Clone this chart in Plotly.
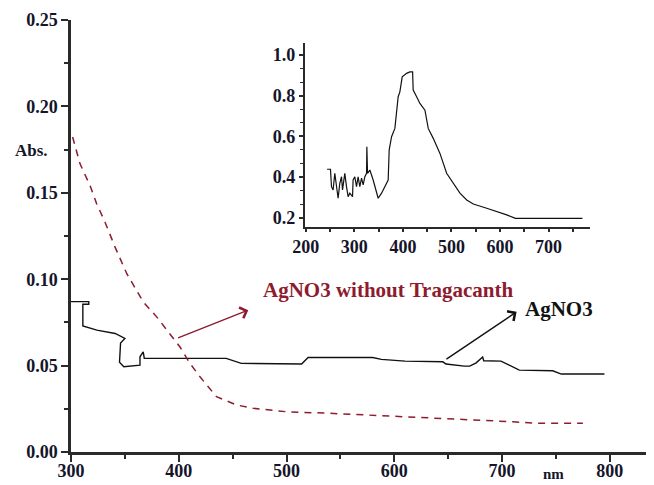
import plotly.graph_objects as go

# ---- main chart data ----
agno3_x = [300, 316.5, 316.5, 311, 311, 324, 341, 350, 346, 345, 349, 364, 364, 367, 368, 444, 458, 494, 514,
           520, 580, 588, 610, 645, 648, 665, 670, 676, 682, 683, 699, 716, 747, 755, 795]
agno3_y = [0.087, 0.087, 0.0855, 0.0855, 0.073, 0.0705, 0.0686, 0.0657, 0.063, 0.052, 0.0493, 0.0503, 0.0551,
           0.058, 0.0542, 0.0542, 0.0513, 0.0509, 0.0509, 0.0547, 0.0547, 0.0536, 0.0526, 0.0522, 0.0509,
           0.0497, 0.0497, 0.0516, 0.055, 0.0528, 0.0526, 0.0474, 0.047, 0.0451, 0.0451]

notrag_x = [301.5, 308.3, 317.6, 323.8, 331.5, 340.8, 351.7, 367, 379.5, 388.7, 401, 410.4, 419.7, 435,
            453.7, 469, 500, 540, 593, 636, 685.6, 710, 732, 775]
notrag_y = [0.1823, 0.1669, 0.1543, 0.1437, 0.1331, 0.1187, 0.1033, 0.0869, 0.0782, 0.0705, 0.0609, 0.0513,
            0.0435, 0.032, 0.0272, 0.0253, 0.0233, 0.0224, 0.021, 0.0195, 0.0185, 0.0175, 0.0166, 0.0166]

# ---- inset data ----
inset_x = [243.9, 250.9, 253, 256.3, 259.8, 263.3, 266.6, 270.1, 273.6, 275.7, 280.4, 283.9, 287.2, 290.7,
           296.3, 297.5, 301, 304.5, 307.8, 311.3, 314.9, 318.2, 321.7, 325.2, 325.8, 327.2, 332, 338.8,
           349.1, 356.1, 362.9, 369.7, 371.8, 376.7, 383.5, 387, 390.3, 393.8, 398.6, 407.6, 414.4, 420,
           421.2, 428.3, 435.1, 445.4, 452.2, 462.5, 476.3, 490.1, 503.7, 517.5, 531.4, 545, 572.6, 593.2,
           613.8, 631.6, 769.7]
inset_y = [0.438, 0.438, 0.352, 0.336, 0.418, 0.344, 0.295, 0.369, 0.401, 0.336, 0.418, 0.352, 0.303, 0.32,
           0.303, 0.385, 0.401, 0.352, 0.401, 0.352, 0.394, 0.361, 0.401, 0.418, 0.549, 0.418, 0.434, 0.385,
           0.295, 0.32, 0.352, 0.385, 0.533, 0.598, 0.639, 0.713, 0.795, 0.819, 0.893, 0.91, 0.917, 0.917,
           0.828, 0.795, 0.762, 0.729, 0.639, 0.59, 0.516, 0.418, 0.369, 0.32, 0.287, 0.267, 0.246, 0.23,
           0.213, 0.196, 0.196]

main_xticks = [300, 400, 500, 600, 700, 800]
main_yticks = [0.00, 0.05, 0.10, 0.15, 0.20, 0.25]
inset_xticks = [200, 300, 400, 500, 600, 700]
inset_yticks = [0.2, 0.4, 0.6, 0.8, 1.0]

RED = "#8e1b2e"
INK = "#15152a"
AXC = "#2a2a2a"
FONT = "Liberation Serif"

fig = go.Figure()
fig.add_trace(go.Scatter(x=agno3_x, y=agno3_y, mode="lines",
                         line=dict(color="#111111", width=1.4), showlegend=False, hoverinfo="skip"))
fig.add_trace(go.Scatter(x=notrag_x, y=notrag_y, mode="lines",
                         line=dict(color=RED, width=1.5, dash="7px,6px"), showlegend=False, hoverinfo="skip"))
fig.add_trace(go.Scatter(x=inset_x, y=inset_y, mode="lines", xaxis="x2", yaxis="y2",
                         line=dict(color="#111111", width=1.2), showlegend=False, hoverinfo="skip"))

tickfont = dict(family=FONT, size=18, color=INK, weight="bold")

fig.update_layout(
    width=646, height=477,
    margin=dict(l=63, r=0, t=12, b=33, autoexpand=False),
    paper_bgcolor="white", plot_bgcolor="white",
    xaxis=dict(range=[300, 841], tickvals=main_xticks, ticktext=[str(v) for v in main_xticks],
               showgrid=False, zeroline=False, showline=True, linecolor=AXC, linewidth=2.5,
               ticks="outside", ticklen=7, tickwidth=2, tickcolor=AXC, tickfont=tickfont,
               ticklabelstandoff=-6,
               minor=dict(dtick=50, tick0=300, ticks="outside", ticklen=4, tickwidth=2, tickcolor=AXC),
               domain=[0, 1], anchor="y"),
    yaxis=dict(range=[0, 0.25], tickvals=main_yticks, ticktext=[f"{v:.2f}" for v in main_yticks],
               showgrid=False, zeroline=False, showline=True, linecolor=AXC, linewidth=2.5,
               ticks="outside", ticklen=7, tickwidth=2, tickcolor=AXC, tickfont=tickfont,
               minor=dict(dtick=0.025, tick0=0, ticks="outside", ticklen=4, tickwidth=2, tickcolor=AXC),
               domain=[0, 1], anchor="x"),
    xaxis2=dict(range=[198, 785], tickvals=inset_xticks, ticktext=[str(v) for v in inset_xticks],
                showgrid=False, zeroline=False, showline=True, linecolor=AXC, linewidth=2,
                ticks="outside", ticklen=3, tickwidth=1.5, tickcolor=AXC, tickfont=tickfont,
                minor=dict(dtick=50, tick0=200, ticks="outside", ticklen=3, tickwidth=1.5, tickcolor=AXC),
                domain=[0.401, 0.890], anchor="y2"),
    yaxis2=dict(range=[0.155, 1.06], tickvals=inset_yticks, ticktext=[f"{v:.1f}" for v in inset_yticks],
                showgrid=False, zeroline=False, showline=True, linecolor=AXC, linewidth=2,
                ticks="outside", ticklen=4, tickwidth=1.5, tickcolor=AXC, tickfont=tickfont,
                minor=dict(dtick=0.2 / 3, tick0=0.2, ticks="outside", ticklen=3, tickwidth=1.2, tickcolor=AXC),
                domain=[0.5215, 0.947], anchor="x2"),
)

annotations = [
    dict(text="<b>Abs.</b>", xref="paper", yref="paper", x=-0.068, y=0.699, showarrow=False,
         font=dict(family=FONT, size=17, color=INK), xanchor="center", yanchor="middle"),
    dict(text="<b>nm</b>", xref="paper", yref="paper", x=0.827, y=-0.052, showarrow=False,
         font=dict(family=FONT, size=15, color=INK), xanchor="center", yanchor="middle"),
    dict(text="<b>AgNO3 without Tragacanth</b>", xref="x", yref="y", x=594, y=0.0936, showarrow=False,
         font=dict(family=FONT, size=21, color=RED), xanchor="center", yanchor="middle"),
    dict(text="<b>AgNO3</b>", xref="x", yref="y", x=719, y=0.0825, showarrow=False,
         font=dict(family=FONT, size=21, color="#111111"), xanchor="left", yanchor="middle"),
    # arrows
    dict(text="", xref="x", yref="y", axref="x", ayref="y", x=464.5, y=0.0821, ax=398, ay=0.0657,
         showarrow=True, arrowhead=4, arrowsize=1.6, arrowwidth=1.4, arrowcolor=RED),
    dict(text="", xref="x", yref="y", axref="x", ayref="y", x=713.5, y=0.0811, ax=647, ay=0.0532,
         showarrow=True, arrowhead=4, arrowsize=1.6, arrowwidth=1.4, arrowcolor="#111111"),
]
fig.update_layout(annotations=annotations)

fig.write_html("out.html")
